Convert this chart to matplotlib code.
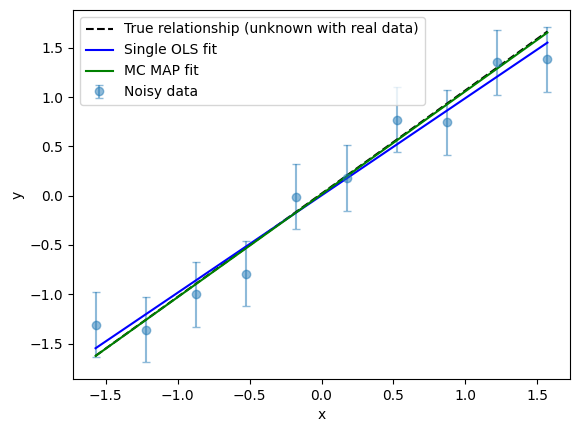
import matplotlib
matplotlib.use("Agg")
from matplotlib import pyplot as plt
import numpy as np

# data points (x at -pi/2 .. pi/2)
x = np.linspace(-np.pi / 2, np.pi / 2, 10)
y = [-1.31, -1.36, -1.00, -0.79, -0.01, 0.18, 0.77, 0.745, 1.355, 1.385]
yerr = [0.33] * 10

# line end points (left, right)
x_line = [x[0], x[-1]]
y_true = [-1.625, 1.667]
y_ols = [-1.548, 1.554]
y_map = [-1.626, 1.656]

fig = plt.figure(figsize=(5.78, 4.32), dpi=100)
ax = fig.add_axes([73/578, 1 - 379/432, (570 - 73)/578, (379 - 10)/432])

ax.errorbar(x, y, yerr=yerr, fmt='o', alpha=0.5, capsize=3, label='Noisy data')
ax.plot(x_line, y_true, 'k--', label='True relationship (unknown with real data)')
ax.plot(x_line, y_ols, 'b-', label='Single OLS fit')
ax.plot(x_line, y_map, 'g-', label='MC MAP fit')

ax.set_xlabel('x')
ax.set_ylabel('y')
ax.legend(loc='upper left')

fig.savefig('out.png', dpi=100)
